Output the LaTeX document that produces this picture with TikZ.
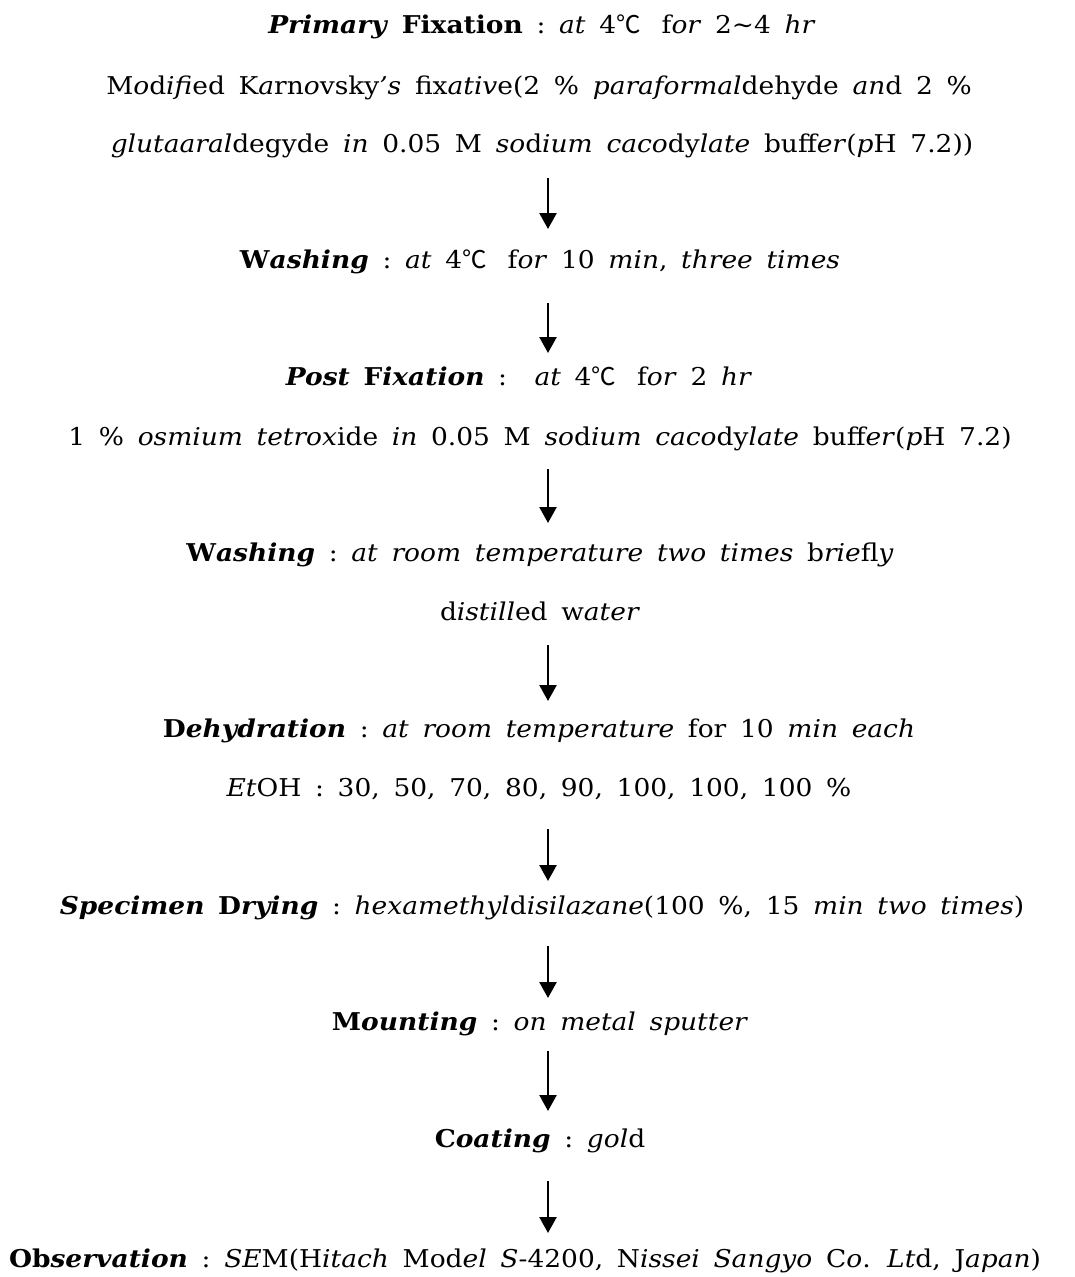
\documentclass[tikz,border=0pt]{standalone}
\usepackage{fontspec}
\setmainfont[FakeStretch=1.08]{DejaVu Serif}
\newfontfamily\cjk{Noto Sans CJK KR}
\usetikzlibrary{arrows.meta}
\newcommand\degC{{\cjk ℃}\hspace{0.3em}}
\newcommand\colsep{\ :\ }
\newcommand\linefont{\fontsize{24.5}{29}\selectfont\spaceskip=0.56em plus 0.1em\relax}
\tikzset{
  stepline/.style={anchor=base, inner sep=0pt, font=\linefont},
  flow/.style={-{Triangle[width=17pt,length=16pt]}, line width=2.4pt},
}
\begin{document}
\begin{tikzpicture}[x=1pt,y=-1pt]
\useasboundingbox (0,0) rectangle (1074,1277);
% process steps
\node[stepline] (t1)  at (542,33)   {\textbf{\textit{Primary}} \textbf{Fixation}\colsep\textit{at} 4\degC{} f\textit{or} 2\textasciitilde4 \textit{hr}};
\node[stepline] (t2)  at (539,94)   {M\textit{o}d\textit{ifi}ed K\textit{a}rn\textit{o}vsky\textit{'s} fix\textit{ativ}e(2 \% \textit{paraformal}dehyde \textit{an}d 2 \%};
\node[stepline] (t3)  at (542,152)  {\textit{glutaaral}degyde \textit{in} 0.05 M \textit{so}d\textit{ium caco}dy\textit{late} buff\textit{er}(\textit{p}H 7.2))};
\node[stepline] (t4)  at (540,268)  {\textbf{W\textit{ashing}}\colsep\textit{at} 4\degC{} f\textit{or} 10 \textit{min}, \textit{three times}};
\node[stepline] (t5)  at (519,385)  {\textbf{\textit{Post}} \textbf{F\textit{ixation}}\colsep\ \textit{at} 4\degC{} f\textit{or} 2 \textit{hr}};
\node[stepline] (t6)  at (540,445)  {1 \% \textit{osmium tetrox}ide \textit{in} 0.05 M \textit{so}d\textit{ium caco}dy\textit{late} buff\textit{er}(\textit{p}H 7.2)};
\node[stepline] (t7)  at (540,561)  {\textbf{W\textit{ashing}}\colsep\textit{at room temperature two times} b\textit{rie}fl\textit{y}};
\node[stepline] (t8)  at (540,620)  {d\textit{istill}ed w\textit{ater}};
\node[stepline] (t9)  at (539,737)  {\textbf{D\textit{ehydration}}\colsep\textit{at room temperature} for 10 \textit{min each}};
\node[stepline] (t10) at (539,796)  {\textit{Et}OH\colsep30, 50, 70, 80, 90, 100, 100, 100 \%};
\node[stepline] (t11) at (542,914)  {\textbf{\textit{Specimen}} \textbf{D\textit{rying}}\colsep\textit{hexamethyl}d\textit{isilazane}(100 \%, 15 \textit{min two times})};
\node[stepline] (t12) at (540,1030) {\textbf{M\textit{ounting}}\colsep\textit{on metal sputter}};
\node[stepline] (t13) at (540,1147) {\textbf{C\textit{oating}}\colsep\textit{gol}d};
\node[stepline] (t14) at (525,1267) {\textbf{Ob\textit{servation}}\colsep\textit{SE}M(H\textit{itach} Mod\textit{el S}-4200, N\textit{issei Sangyo} C\textit{o}. \textit{Lt}d, J\textit{apan})};
% arrow end points
\coordinate (a1s) at (548,178);  \coordinate (a1e) at (548,229);
\coordinate (a2s) at (548,303);  \coordinate (a2e) at (548,353);
\coordinate (a3s) at (548,469);  \coordinate (a3e) at (548,523);
\coordinate (a4s) at (548,645);  \coordinate (a4e) at (548,701);
\coordinate (a5s) at (548,829);  \coordinate (a5e) at (548,881);
\coordinate (a6s) at (548,946);  \coordinate (a6e) at (548,998);
\coordinate (a7s) at (548,1051); \coordinate (a7e) at (548,1111);
\coordinate (a8s) at (548,1181); \coordinate (a8e) at (548,1233);
\foreach \i in {1,...,8} \draw[flow] (a\i s) -- (a\i e);
\end{tikzpicture}
\end{document}
